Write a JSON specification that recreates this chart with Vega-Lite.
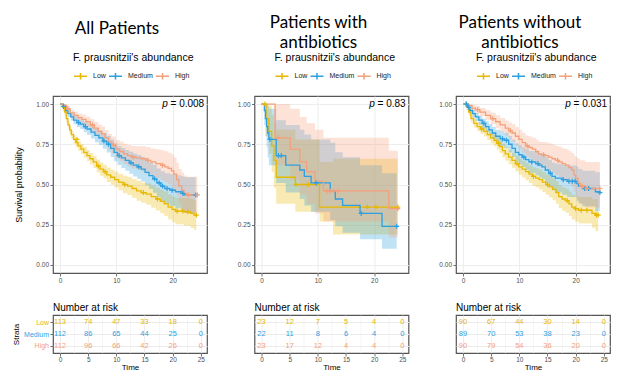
{
  "$schema": "https://vega.github.io/schema/vega-lite/v6.json",
  "background": "white",
  "padding": {"left": 12, "top": 13, "right": 5, "bottom": 5},
  "datasets": {
    "curves": [
      {"p":"A","g":"Low","t":0,"s":1,"lo":1,"hi":1},
      {"p":"A","g":"Low","t":0.5,"s":0.98,"lo":0.958,"hi":1},
      {"p":"A","g":"Low","t":0.8,"s":0.95,"lo":0.928,"hi":0.97},
      {"p":"A","g":"Low","t":1.1,"s":0.91,"lo":0.887,"hi":0.933},
      {"p":"A","g":"Low","t":1.4,"s":0.87,"lo":0.846,"hi":0.894},
      {"p":"A","g":"Low","t":1.7,"s":0.84,"lo":0.815,"hi":0.865},
      {"p":"A","g":"Low","t":2.0,"s":0.81,"lo":0.784,"hi":0.836},
      {"p":"A","g":"Low","t":2.4,"s":0.78,"lo":0.753,"hi":0.807},
      {"p":"A","g":"Low","t":2.8,"s":0.76,"lo":0.732,"hi":0.788},
      {"p":"A","g":"Low","t":3.2,"s":0.74,"lo":0.71,"hi":0.77},
      {"p":"A","g":"Low","t":3.7,"s":0.72,"lo":0.689,"hi":0.751},
      {"p":"A","g":"Low","t":4.2,"s":0.7,"lo":0.667,"hi":0.733},
      {"p":"A","g":"Low","t":4.8,"s":0.68,"lo":0.646,"hi":0.714},
      {"p":"A","g":"Low","t":5.3,"s":0.66,"lo":0.624,"hi":0.696},
      {"p":"A","g":"Low","t":5.9,"s":0.64,"lo":0.602,"hi":0.678},
      {"p":"A","g":"Low","t":6.5,"s":0.615,"lo":0.575,"hi":0.655},
      {"p":"A","g":"Low","t":7.1,"s":0.595,"lo":0.554,"hi":0.636},
      {"p":"A","g":"Low","t":7.7,"s":0.58,"lo":0.537,"hi":0.623},
      {"p":"A","g":"Low","t":8.3,"s":0.56,"lo":0.515,"hi":0.605},
      {"p":"A","g":"Low","t":9.0,"s":0.545,"lo":0.498,"hi":0.592},
      {"p":"A","g":"Low","t":9.7,"s":0.53,"lo":0.481,"hi":0.579},
      {"p":"A","g":"Low","t":10.4,"s":0.515,"lo":0.464,"hi":0.566},
      {"p":"A","g":"Low","t":11.2,"s":0.5,"lo":0.446,"hi":0.554},
      {"p":"A","g":"Low","t":12.0,"s":0.49,"lo":0.434,"hi":0.546},
      {"p":"A","g":"Low","t":12.8,"s":0.475,"lo":0.417,"hi":0.533},
      {"p":"A","g":"Low","t":13.6,"s":0.46,"lo":0.399,"hi":0.521},
      {"p":"A","g":"Low","t":14.4,"s":0.45,"lo":0.387,"hi":0.513},
      {"p":"A","g":"Low","t":15.3,"s":0.44,"lo":0.374,"hi":0.506},
      {"p":"A","g":"Low","t":16.2,"s":0.425,"lo":0.356,"hi":0.494},
      {"p":"A","g":"Low","t":17.0,"s":0.41,"lo":0.339,"hi":0.481},
      {"p":"A","g":"Low","t":17.8,"s":0.395,"lo":0.322,"hi":0.468},
      {"p":"A","g":"Low","t":18.5,"s":0.38,"lo":0.304,"hi":0.456},
      {"p":"A","g":"Low","t":19.2,"s":0.36,"lo":0.282,"hi":0.438},
      {"p":"A","g":"Low","t":19.9,"s":0.345,"lo":0.265,"hi":0.425},
      {"p":"A","g":"Low","t":20.5,"s":0.335,"lo":0.253,"hi":0.417},
      {"p":"A","g":"Low","t":22.0,"s":0.33,"lo":0.244,"hi":0.416},
      {"p":"A","g":"Low","t":23.2,"s":0.32,"lo":0.23,"hi":0.41},
      {"p":"A","g":"Low","t":23.8,"s":0.31,"lo":0.218,"hi":0.402},
      {"p":"A","g":"Low","t":24.2,"s":0.31,"lo":0.218,"hi":0.402},

      {"p":"A","g":"Medium","t":0,"s":1,"lo":1,"hi":1},
      {"p":"A","g":"Medium","t":0.6,"s":0.985,"lo":0.967,"hi":1},
      {"p":"A","g":"Medium","t":1.0,"s":0.96,"lo":0.941,"hi":0.979},
      {"p":"A","g":"Medium","t":1.4,"s":0.94,"lo":0.919,"hi":0.961},
      {"p":"A","g":"Medium","t":1.9,"s":0.92,"lo":0.897,"hi":0.943},
      {"p":"A","g":"Medium","t":2.4,"s":0.9,"lo":0.875,"hi":0.925},
      {"p":"A","g":"Medium","t":3.0,"s":0.885,"lo":0.857,"hi":0.913},
      {"p":"A","g":"Medium","t":3.6,"s":0.875,"lo":0.845,"hi":0.905},
      {"p":"A","g":"Medium","t":4.2,"s":0.86,"lo":0.827,"hi":0.893},
      {"p":"A","g":"Medium","t":4.8,"s":0.845,"lo":0.809,"hi":0.881},
      {"p":"A","g":"Medium","t":5.5,"s":0.825,"lo":0.786,"hi":0.864},
      {"p":"A","g":"Medium","t":6.2,"s":0.805,"lo":0.763,"hi":0.847},
      {"p":"A","g":"Medium","t":6.9,"s":0.79,"lo":0.745,"hi":0.835},
      {"p":"A","g":"Medium","t":7.6,"s":0.77,"lo":0.722,"hi":0.818},
      {"p":"A","g":"Medium","t":8.3,"s":0.75,"lo":0.699,"hi":0.801},
      {"p":"A","g":"Medium","t":9.0,"s":0.725,"lo":0.671,"hi":0.779},
      {"p":"A","g":"Medium","t":9.6,"s":0.7,"lo":0.644,"hi":0.756},
      {"p":"A","g":"Medium","t":10.2,"s":0.68,"lo":0.621,"hi":0.739},
      {"p":"A","g":"Medium","t":10.9,"s":0.665,"lo":0.603,"hi":0.727},
      {"p":"A","g":"Medium","t":11.6,"s":0.65,"lo":0.585,"hi":0.715},
      {"p":"A","g":"Medium","t":12.3,"s":0.635,"lo":0.567,"hi":0.703},
      {"p":"A","g":"Medium","t":13.0,"s":0.62,"lo":0.549,"hi":0.691},
      {"p":"A","g":"Medium","t":13.7,"s":0.61,"lo":0.536,"hi":0.684},
      {"p":"A","g":"Medium","t":14.4,"s":0.595,"lo":0.518,"hi":0.672},
      {"p":"A","g":"Medium","t":15.1,"s":0.575,"lo":0.495,"hi":0.655},
      {"p":"A","g":"Medium","t":15.8,"s":0.555,"lo":0.472,"hi":0.638},
      {"p":"A","g":"Medium","t":16.5,"s":0.535,"lo":0.449,"hi":0.621},
      {"p":"A","g":"Medium","t":17.2,"s":0.51,"lo":0.421,"hi":0.599},
      {"p":"A","g":"Medium","t":17.9,"s":0.49,"lo":0.398,"hi":0.582},
      {"p":"A","g":"Medium","t":18.6,"s":0.475,"lo":0.38,"hi":0.57},
      {"p":"A","g":"Medium","t":19.5,"s":0.465,"lo":0.366,"hi":0.564},
      {"p":"A","g":"Medium","t":20.5,"s":0.455,"lo":0.352,"hi":0.558},
      {"p":"A","g":"Medium","t":21.5,"s":0.445,"lo":0.338,"hi":0.552},
      {"p":"A","g":"Medium","t":22.0,"s":0.435,"lo":0.325,"hi":0.545},
      {"p":"A","g":"Medium","t":24.1,"s":0.435,"lo":0.325,"hi":0.545},

      {"p":"A","g":"High","t":0,"s":1,"lo":1,"hi":1},
      {"p":"A","g":"High","t":0.6,"s":0.99,"lo":0.975,"hi":1},
      {"p":"A","g":"High","t":1.2,"s":0.97,"lo":0.953,"hi":0.987},
      {"p":"A","g":"High","t":1.8,"s":0.945,"lo":0.925,"hi":0.965},
      {"p":"A","g":"High","t":2.5,"s":0.93,"lo":0.907,"hi":0.953},
      {"p":"A","g":"High","t":3.2,"s":0.915,"lo":0.889,"hi":0.941},
      {"p":"A","g":"High","t":3.9,"s":0.905,"lo":0.875,"hi":0.935},
      {"p":"A","g":"High","t":4.6,"s":0.89,"lo":0.857,"hi":0.923},
      {"p":"A","g":"High","t":5.4,"s":0.87,"lo":0.834,"hi":0.906},
      {"p":"A","g":"High","t":6.1,"s":0.85,"lo":0.811,"hi":0.889},
      {"p":"A","g":"High","t":6.8,"s":0.83,"lo":0.787,"hi":0.873},
      {"p":"A","g":"High","t":7.4,"s":0.815,"lo":0.77,"hi":0.86},
      {"p":"A","g":"High","t":8.0,"s":0.79,"lo":0.742,"hi":0.838},
      {"p":"A","g":"High","t":8.6,"s":0.765,"lo":0.714,"hi":0.816},
      {"p":"A","g":"High","t":9.2,"s":0.745,"lo":0.692,"hi":0.798},
      {"p":"A","g":"High","t":9.9,"s":0.72,"lo":0.663,"hi":0.777},
      {"p":"A","g":"High","t":10.6,"s":0.705,"lo":0.645,"hi":0.765},
      {"p":"A","g":"High","t":11.3,"s":0.69,"lo":0.627,"hi":0.753},
      {"p":"A","g":"High","t":12.0,"s":0.68,"lo":0.614,"hi":0.746},
      {"p":"A","g":"High","t":12.7,"s":0.67,"lo":0.601,"hi":0.739},
      {"p":"A","g":"High","t":13.5,"s":0.665,"lo":0.592,"hi":0.738},
      {"p":"A","g":"High","t":14.4,"s":0.66,"lo":0.583,"hi":0.737},
      {"p":"A","g":"High","t":15.3,"s":0.65,"lo":0.569,"hi":0.731},
      {"p":"A","g":"High","t":16.1,"s":0.64,"lo":0.556,"hi":0.724},
      {"p":"A","g":"High","t":17.0,"s":0.63,"lo":0.541,"hi":0.719},
      {"p":"A","g":"High","t":17.9,"s":0.62,"lo":0.527,"hi":0.713},
      {"p":"A","g":"High","t":18.6,"s":0.61,"lo":0.514,"hi":0.706},
      {"p":"A","g":"High","t":19.2,"s":0.6,"lo":0.502,"hi":0.698},
      {"p":"A","g":"High","t":19.8,"s":0.585,"lo":0.484,"hi":0.686},
      {"p":"A","g":"High","t":20.2,"s":0.565,"lo":0.462,"hi":0.668},
      {"p":"A","g":"High","t":20.7,"s":0.53,"lo":0.425,"hi":0.635},
      {"p":"A","g":"High","t":21.1,"s":0.49,"lo":0.383,"hi":0.597},
      {"p":"A","g":"High","t":21.6,"s":0.465,"lo":0.355,"hi":0.575},
      {"p":"A","g":"High","t":22.0,"s":0.445,"lo":0.334,"hi":0.556},
      {"p":"A","g":"High","t":22.5,"s":0.435,"lo":0.322,"hi":0.548},
      {"p":"A","g":"High","t":24.4,"s":0.435,"lo":0.322,"hi":0.548},

      {"p":"B","g":"Low","t":0,"s":1,"lo":1,"hi":1},
      {"p":"B","g":"Low","t":0.8,"s":0.91,"lo":0.8,"hi":1},
      {"p":"B","g":"Low","t":1.3,"s":0.83,"lo":0.69,"hi":0.99},
      {"p":"B","g":"Low","t":1.8,"s":0.74,"lo":0.58,"hi":0.93},
      {"p":"B","g":"Low","t":2.2,"s":0.65,"lo":0.48,"hi":0.88},
      {"p":"B","g":"Low","t":2.6,"s":0.545,"lo":0.38,"hi":0.84},
      {"p":"B","g":"Low","t":6.0,"s":0.5,"lo":0.33,"hi":0.78},
      {"p":"B","g":"Low","t":10.3,"s":0.36,"lo":0.27,"hi":0.64},
      {"p":"B","g":"Low","t":12.7,"s":0.36,"lo":0.19,"hi":0.66},
      {"p":"B","g":"Low","t":24.2,"s":0.36,"lo":0.19,"hi":0.66},

      {"p":"B","g":"Medium","t":0,"s":1,"lo":1,"hi":1},
      {"p":"B","g":"Medium","t":0.5,"s":0.96,"lo":0.87,"hi":1},
      {"p":"B","g":"Medium","t":0.7,"s":0.91,"lo":0.8,"hi":1},
      {"p":"B","g":"Medium","t":0.9,"s":0.86,"lo":0.73,"hi":1},
      {"p":"B","g":"Medium","t":1.1,"s":0.82,"lo":0.67,"hi":0.99},
      {"p":"B","g":"Medium","t":1.3,"s":0.78,"lo":0.62,"hi":0.97},
      {"p":"B","g":"Medium","t":2.6,"s":0.68,"lo":0.51,"hi":0.9},
      {"p":"B","g":"Medium","t":4.3,"s":0.62,"lo":0.45,"hi":0.87},
      {"p":"B","g":"Medium","t":6.8,"s":0.59,"lo":0.41,"hi":0.84},
      {"p":"B","g":"Medium","t":7.6,"s":0.55,"lo":0.37,"hi":0.81},
      {"p":"B","g":"Medium","t":8.8,"s":0.51,"lo":0.33,"hi":0.78},
      {"p":"B","g":"Medium","t":12.2,"s":0.46,"lo":0.28,"hi":0.76},
      {"p":"B","g":"Medium","t":13.1,"s":0.41,"lo":0.24,"hi":0.7},
      {"p":"B","g":"Medium","t":14.4,"s":0.37,"lo":0.2,"hi":0.67},
      {"p":"B","g":"Medium","t":17.5,"s":0.32,"lo":0.16,"hi":0.62},
      {"p":"B","g":"Medium","t":21.4,"s":0.24,"lo":0.1,"hi":0.57},
      {"p":"B","g":"Medium","t":24.0,"s":0.24,"lo":0.1,"hi":0.57},

      {"p":"B","g":"High","t":0,"s":1,"lo":1,"hi":1},
      {"p":"B","g":"High","t":2.4,"s":0.79,"lo":0.62,"hi":1},
      {"p":"B","g":"High","t":5.1,"s":0.72,"lo":0.53,"hi":0.97},
      {"p":"B","g":"High","t":6.8,"s":0.64,"lo":0.44,"hi":0.92},
      {"p":"B","g":"High","t":8.0,"s":0.58,"lo":0.38,"hi":0.88},
      {"p":"B","g":"High","t":9.5,"s":0.52,"lo":0.32,"hi":0.84},
      {"p":"B","g":"High","t":11.0,"s":0.46,"lo":0.27,"hi":0.79},
      {"p":"B","g":"High","t":22.6,"s":0.35,"lo":0.17,"hi":0.71},
      {"p":"B","g":"High","t":24.2,"s":0.35,"lo":0.17,"hi":0.71},

      {"p":"C","g":"Low","t":0,"s":1,"lo":1,"hi":1},
      {"p":"C","g":"Low","t":0.6,"s":0.985,"lo":0.963,"hi":1},
      {"p":"C","g":"Low","t":1.0,"s":0.95,"lo":0.927,"hi":0.973},
      {"p":"C","g":"Low","t":1.4,"s":0.91,"lo":0.886,"hi":0.934},
      {"p":"C","g":"Low","t":1.9,"s":0.88,"lo":0.854,"hi":0.906},
      {"p":"C","g":"Low","t":2.5,"s":0.86,"lo":0.832,"hi":0.888},
      {"p":"C","g":"Low","t":3.1,"s":0.845,"lo":0.816,"hi":0.874},
      {"p":"C","g":"Low","t":3.7,"s":0.83,"lo":0.799,"hi":0.861},
      {"p":"C","g":"Low","t":4.3,"s":0.81,"lo":0.777,"hi":0.843},
      {"p":"C","g":"Low","t":4.9,"s":0.79,"lo":0.755,"hi":0.825},
      {"p":"C","g":"Low","t":5.5,"s":0.775,"lo":0.738,"hi":0.812},
      {"p":"C","g":"Low","t":6.0,"s":0.755,"lo":0.717,"hi":0.793},
      {"p":"C","g":"Low","t":6.5,"s":0.735,"lo":0.695,"hi":0.775},
      {"p":"C","g":"Low","t":7.0,"s":0.71,"lo":0.669,"hi":0.751},
      {"p":"C","g":"Low","t":7.5,"s":0.69,"lo":0.647,"hi":0.733},
      {"p":"C","g":"Low","t":8.1,"s":0.67,"lo":0.626,"hi":0.714},
      {"p":"C","g":"Low","t":8.7,"s":0.65,"lo":0.604,"hi":0.696},
      {"p":"C","g":"Low","t":9.3,"s":0.63,"lo":0.582,"hi":0.678},
      {"p":"C","g":"Low","t":9.9,"s":0.61,"lo":0.56,"hi":0.66},
      {"p":"C","g":"Low","t":10.5,"s":0.595,"lo":0.543,"hi":0.647},
      {"p":"C","g":"Low","t":11.1,"s":0.58,"lo":0.527,"hi":0.633},
      {"p":"C","g":"Low","t":11.7,"s":0.565,"lo":0.51,"hi":0.62},
      {"p":"C","g":"Low","t":12.3,"s":0.55,"lo":0.493,"hi":0.607},
      {"p":"C","g":"Low","t":12.9,"s":0.54,"lo":0.481,"hi":0.599},
      {"p":"C","g":"Low","t":13.5,"s":0.53,"lo":0.469,"hi":0.591},
      {"p":"C","g":"Low","t":14.1,"s":0.515,"lo":0.453,"hi":0.577},
      {"p":"C","g":"Low","t":14.7,"s":0.5,"lo":0.436,"hi":0.564},
      {"p":"C","g":"Low","t":15.3,"s":0.485,"lo":0.419,"hi":0.551},
      {"p":"C","g":"Low","t":15.9,"s":0.47,"lo":0.402,"hi":0.538},
      {"p":"C","g":"Low","t":16.5,"s":0.45,"lo":0.38,"hi":0.52},
      {"p":"C","g":"Low","t":17.0,"s":0.425,"lo":0.354,"hi":0.496},
      {"p":"C","g":"Low","t":17.6,"s":0.41,"lo":0.337,"hi":0.483},
      {"p":"C","g":"Low","t":18.2,"s":0.4,"lo":0.325,"hi":0.475},
      {"p":"C","g":"Low","t":18.8,"s":0.38,"lo":0.304,"hi":0.456},
      {"p":"C","g":"Low","t":19.3,"s":0.36,"lo":0.282,"hi":0.438},
      {"p":"C","g":"Low","t":19.9,"s":0.35,"lo":0.27,"hi":0.43},
      {"p":"C","g":"Low","t":20.5,"s":0.34,"lo":0.258,"hi":0.422},
      {"p":"C","g":"Low","t":22.9,"s":0.32,"lo":0.231,"hi":0.409},
      {"p":"C","g":"Low","t":23.5,"s":0.31,"lo":0.21,"hi":0.41},
      {"p":"C","g":"Low","t":24.0,"s":0.31,"lo":0.21,"hi":0.41},

      {"p":"C","g":"Medium","t":0,"s":1,"lo":1,"hi":1},
      {"p":"C","g":"Medium","t":0.8,"s":0.98,"lo":0.961,"hi":0.999},
      {"p":"C","g":"Medium","t":1.2,"s":0.96,"lo":0.94,"hi":0.98},
      {"p":"C","g":"Medium","t":1.7,"s":0.94,"lo":0.917,"hi":0.963},
      {"p":"C","g":"Medium","t":2.2,"s":0.92,"lo":0.895,"hi":0.945},
      {"p":"C","g":"Medium","t":2.8,"s":0.9,"lo":0.872,"hi":0.928},
      {"p":"C","g":"Medium","t":3.4,"s":0.88,"lo":0.85,"hi":0.91},
      {"p":"C","g":"Medium","t":4.0,"s":0.86,"lo":0.827,"hi":0.893},
      {"p":"C","g":"Medium","t":4.6,"s":0.84,"lo":0.804,"hi":0.876},
      {"p":"C","g":"Medium","t":5.2,"s":0.82,"lo":0.782,"hi":0.858},
      {"p":"C","g":"Medium","t":5.8,"s":0.8,"lo":0.759,"hi":0.841},
      {"p":"C","g":"Medium","t":6.6,"s":0.785,"lo":0.74,"hi":0.83},
      {"p":"C","g":"Medium","t":7.3,"s":0.775,"lo":0.727,"hi":0.823},
      {"p":"C","g":"Medium","t":8.1,"s":0.75,"lo":0.699,"hi":0.801},
      {"p":"C","g":"Medium","t":8.7,"s":0.725,"lo":0.671,"hi":0.779},
      {"p":"C","g":"Medium","t":9.3,"s":0.7,"lo":0.643,"hi":0.757},
      {"p":"C","g":"Medium","t":9.9,"s":0.685,"lo":0.625,"hi":0.745},
      {"p":"C","g":"Medium","t":10.5,"s":0.67,"lo":0.608,"hi":0.732},
      {"p":"C","g":"Medium","t":11.1,"s":0.655,"lo":0.59,"hi":0.72},
      {"p":"C","g":"Medium","t":11.7,"s":0.64,"lo":0.572,"hi":0.708},
      {"p":"C","g":"Medium","t":12.9,"s":0.63,"lo":0.557,"hi":0.703},
      {"p":"C","g":"Medium","t":13.5,"s":0.62,"lo":0.544,"hi":0.696},
      {"p":"C","g":"Medium","t":14.0,"s":0.61,"lo":0.532,"hi":0.688},
      {"p":"C","g":"Medium","t":14.6,"s":0.59,"lo":0.509,"hi":0.671},
      {"p":"C","g":"Medium","t":15.2,"s":0.57,"lo":0.487,"hi":0.653},
      {"p":"C","g":"Medium","t":15.8,"s":0.55,"lo":0.464,"hi":0.636},
      {"p":"C","g":"Medium","t":16.4,"s":0.54,"lo":0.451,"hi":0.629},
      {"p":"C","g":"Medium","t":17.6,"s":0.53,"lo":0.436,"hi":0.624},
      {"p":"C","g":"Medium","t":18.5,"s":0.52,"lo":0.422,"hi":0.618},
      {"p":"C","g":"Medium","t":20.2,"s":0.505,"lo":0.399,"hi":0.611},
      {"p":"C","g":"Medium","t":20.5,"s":0.49,"lo":0.383,"hi":0.597},
      {"p":"C","g":"Medium","t":21.2,"s":0.475,"lo":0.365,"hi":0.585},
      {"p":"C","g":"Medium","t":23.5,"s":0.455,"lo":0.334,"hi":0.576},
      {"p":"C","g":"Medium","t":24.3,"s":0.45,"lo":0.334,"hi":0.576},

      {"p":"C","g":"High","t":0,"s":1,"lo":1,"hi":1},
      {"p":"C","g":"High","t":1.0,"s":0.99,"lo":0.973,"hi":1},
      {"p":"C","g":"High","t":1.6,"s":0.975,"lo":0.955,"hi":0.995},
      {"p":"C","g":"High","t":2.2,"s":0.965,"lo":0.942,"hi":0.988},
      {"p":"C","g":"High","t":3.0,"s":0.95,"lo":0.924,"hi":0.976},
      {"p":"C","g":"High","t":4.0,"s":0.93,"lo":0.899,"hi":0.961},
      {"p":"C","g":"High","t":4.9,"s":0.91,"lo":0.874,"hi":0.946},
      {"p":"C","g":"High","t":5.8,"s":0.89,"lo":0.85,"hi":0.93},
      {"p":"C","g":"High","t":6.6,"s":0.87,"lo":0.826,"hi":0.914},
      {"p":"C","g":"High","t":7.5,"s":0.85,"lo":0.802,"hi":0.898},
      {"p":"C","g":"High","t":8.1,"s":0.835,"lo":0.784,"hi":0.886},
      {"p":"C","g":"High","t":8.7,"s":0.82,"lo":0.766,"hi":0.874},
      {"p":"C","g":"High","t":9.3,"s":0.8,"lo":0.743,"hi":0.857},
      {"p":"C","g":"High","t":9.9,"s":0.78,"lo":0.72,"hi":0.84},
      {"p":"C","g":"High","t":10.5,"s":0.76,"lo":0.698,"hi":0.822},
      {"p":"C","g":"High","t":11.1,"s":0.74,"lo":0.675,"hi":0.805},
      {"p":"C","g":"High","t":11.7,"s":0.73,"lo":0.662,"hi":0.798},
      {"p":"C","g":"High","t":12.3,"s":0.72,"lo":0.649,"hi":0.791},
      {"p":"C","g":"High","t":12.9,"s":0.705,"lo":0.631,"hi":0.779},
      {"p":"C","g":"High","t":13.4,"s":0.69,"lo":0.614,"hi":0.766},
      {"p":"C","g":"High","t":14.0,"s":0.685,"lo":0.606,"hi":0.764},
      {"p":"C","g":"High","t":14.6,"s":0.68,"lo":0.598,"hi":0.762},
      {"p":"C","g":"High","t":15.2,"s":0.67,"lo":0.585,"hi":0.755},
      {"p":"C","g":"High","t":15.8,"s":0.66,"lo":0.572,"hi":0.748},
      {"p":"C","g":"High","t":16.4,"s":0.65,"lo":0.559,"hi":0.741},
      {"p":"C","g":"High","t":17.0,"s":0.64,"lo":0.546,"hi":0.734},
      {"p":"C","g":"High","t":17.6,"s":0.63,"lo":0.534,"hi":0.726},
      {"p":"C","g":"High","t":18.2,"s":0.62,"lo":0.521,"hi":0.719},
      {"p":"C","g":"High","t":18.8,"s":0.605,"lo":0.503,"hi":0.707},
      {"p":"C","g":"High","t":19.3,"s":0.59,"lo":0.485,"hi":0.695},
      {"p":"C","g":"High","t":19.7,"s":0.56,"lo":0.453,"hi":0.68},
      {"p":"C","g":"High","t":20.0,"s":0.54,"lo":0.432,"hi":0.67},
      {"p":"C","g":"High","t":20.4,"s":0.51,"lo":0.4,"hi":0.66},
      {"p":"C","g":"High","t":20.8,"s":0.49,"lo":0.378,"hi":0.65},
      {"p":"C","g":"High","t":21.7,"s":0.475,"lo":0.359,"hi":0.64},
      {"p":"C","g":"High","t":24.3,"s":0.475,"lo":0.359,"hi":0.64}
    ],
    "cens": [
      {"p":"A","g":"Low","t":3.0,"s":0.78},
      {"p":"A","g":"Low","t":6.8,"s":0.615},
      {"p":"A","g":"Low","t":8.0,"s":0.58},
      {"p":"A","g":"Low","t":11.5,"s":0.5},
      {"p":"A","g":"Low","t":14.8,"s":0.45},
      {"p":"A","g":"Low","t":17.3,"s":0.41},
      {"p":"A","g":"Low","t":20.8,"s":0.335},
      {"p":"A","g":"Low","t":21.8,"s":0.335},
      {"p":"A","g":"Low","t":22.7,"s":0.33},
      {"p":"A","g":"Low","t":24.2,"s":0.31},
      {"p":"A","g":"Medium","t":0.6,"s":0.985},
      {"p":"A","g":"Medium","t":3.3,"s":0.885},
      {"p":"A","g":"Medium","t":4.5,"s":0.86},
      {"p":"A","g":"Medium","t":7.8,"s":0.77},
      {"p":"A","g":"Medium","t":8.6,"s":0.75},
      {"p":"A","g":"Medium","t":10.5,"s":0.68},
      {"p":"A","g":"Medium","t":12.6,"s":0.635},
      {"p":"A","g":"Medium","t":14.0,"s":0.61},
      {"p":"A","g":"Medium","t":16.8,"s":0.535},
      {"p":"A","g":"Medium","t":17.6,"s":0.51},
      {"p":"A","g":"Medium","t":18.2,"s":0.49},
      {"p":"A","g":"Medium","t":19.0,"s":0.475},
      {"p":"A","g":"Medium","t":19.9,"s":0.465},
      {"p":"A","g":"Medium","t":21.8,"s":0.445},
      {"p":"A","g":"Medium","t":24.1,"s":0.435},
      {"p":"A","g":"High","t":1.4,"s":0.97},
      {"p":"A","g":"High","t":5.8,"s":0.87},
      {"p":"A","g":"High","t":9.5,"s":0.745},
      {"p":"A","g":"High","t":13.0,"s":0.67},
      {"p":"A","g":"High","t":15.6,"s":0.65},
      {"p":"A","g":"High","t":18.2,"s":0.62},
      {"p":"A","g":"High","t":22.8,"s":0.435},
      {"p":"A","g":"High","t":24.4,"s":0.435},
      {"p":"B","g":"Low","t":0.6,"s":1},
      {"p":"B","g":"Low","t":6.1,"s":0.5},
      {"p":"B","g":"Low","t":8.3,"s":0.5},
      {"p":"B","g":"Low","t":18.8,"s":0.36},
      {"p":"B","g":"Low","t":20.3,"s":0.36},
      {"p":"B","g":"Low","t":24.2,"s":0.36},
      {"p":"B","g":"Medium","t":1.5,"s":0.78},
      {"p":"B","g":"Medium","t":3.0,"s":0.68},
      {"p":"B","g":"Medium","t":3.5,"s":0.68},
      {"p":"B","g":"Medium","t":9.7,"s":0.51},
      {"p":"B","g":"Medium","t":17.7,"s":0.32},
      {"p":"B","g":"Medium","t":24.0,"s":0.24},
      {"p":"B","g":"High","t":2.9,"s":0.79},
      {"p":"B","g":"High","t":11.6,"s":0.46},
      {"p":"B","g":"High","t":12.2,"s":0.46},
      {"p":"B","g":"High","t":12.8,"s":0.46},
      {"p":"B","g":"High","t":13.6,"s":0.46},
      {"p":"B","g":"High","t":24.2,"s":0.35},
      {"p":"C","g":"Low","t":0.5,"s":1},
      {"p":"C","g":"Low","t":3.3,"s":0.845},
      {"p":"C","g":"Low","t":6.3,"s":0.755},
      {"p":"C","g":"Low","t":9.6,"s":0.63},
      {"p":"C","g":"Low","t":12.5,"s":0.55},
      {"p":"C","g":"Low","t":15.0,"s":0.5},
      {"p":"C","g":"Low","t":18.5,"s":0.4},
      {"p":"C","g":"Low","t":20.0,"s":0.35},
      {"p":"C","g":"Low","t":21.0,"s":0.34},
      {"p":"C","g":"Low","t":22.0,"s":0.34},
      {"p":"C","g":"Low","t":23.7,"s":0.31},
      {"p":"C","g":"Low","t":24.0,"s":0.31},
      {"p":"C","g":"Medium","t":0.6,"s":1},
      {"p":"C","g":"Medium","t":1.0,"s":0.98},
      {"p":"C","g":"Medium","t":3.7,"s":0.88},
      {"p":"C","g":"Medium","t":7.0,"s":0.785},
      {"p":"C","g":"Medium","t":7.7,"s":0.775},
      {"p":"C","g":"Medium","t":10.8,"s":0.67},
      {"p":"C","g":"Medium","t":12.2,"s":0.64},
      {"p":"C","g":"Medium","t":13.3,"s":0.63},
      {"p":"C","g":"Medium","t":15.5,"s":0.57},
      {"p":"C","g":"Medium","t":17.8,"s":0.53},
      {"p":"C","g":"Medium","t":18.8,"s":0.52},
      {"p":"C","g":"Medium","t":19.4,"s":0.52},
      {"p":"C","g":"Medium","t":19.9,"s":0.52},
      {"p":"C","g":"Medium","t":21.6,"s":0.475},
      {"p":"C","g":"Medium","t":22.3,"s":0.475},
      {"p":"C","g":"Medium","t":24.3,"s":0.45},
      {"p":"C","g":"High","t":2.6,"s":0.965},
      {"p":"C","g":"High","t":5.3,"s":0.91},
      {"p":"C","g":"High","t":8.4,"s":0.835},
      {"p":"C","g":"High","t":11.4,"s":0.74},
      {"p":"C","g":"High","t":14.3,"s":0.685},
      {"p":"C","g":"High","t":16.8,"s":0.65},
      {"p":"C","g":"High","t":21.2,"s":0.49},
      {"p":"C","g":"High","t":22.0,"s":0.475},
      {"p":"C","g":"High","t":24.3,"s":0.475}
    ],
    "risk": [
      {"p":"A","g":"Low","t":0,"n":113},{"p":"A","g":"Low","t":5,"n":74},{"p":"A","g":"Low","t":10,"n":47},{"p":"A","g":"Low","t":15,"n":33},{"p":"A","g":"Low","t":20,"n":18},{"p":"A","g":"Low","t":25,"n":0},
      {"p":"A","g":"Medium","t":0,"n":112},{"p":"A","g":"Medium","t":5,"n":86},{"p":"A","g":"Medium","t":10,"n":65},{"p":"A","g":"Medium","t":15,"n":44},{"p":"A","g":"Medium","t":20,"n":25},{"p":"A","g":"Medium","t":25,"n":0},
      {"p":"A","g":"High","t":0,"n":112},{"p":"A","g":"High","t":5,"n":96},{"p":"A","g":"High","t":10,"n":66},{"p":"A","g":"High","t":15,"n":42},{"p":"A","g":"High","t":20,"n":26},{"p":"A","g":"High","t":25,"n":0},
      {"p":"B","g":"Low","t":0,"n":23},{"p":"B","g":"Low","t":5,"n":12},{"p":"B","g":"Low","t":10,"n":7},{"p":"B","g":"Low","t":15,"n":5},{"p":"B","g":"Low","t":20,"n":4},{"p":"B","g":"Low","t":25,"n":0},
      {"p":"B","g":"Medium","t":0,"n":22},{"p":"B","g":"Medium","t":5,"n":11},{"p":"B","g":"Medium","t":10,"n":8},{"p":"B","g":"Medium","t":15,"n":6},{"p":"B","g":"Medium","t":20,"n":4},{"p":"B","g":"Medium","t":25,"n":0},
      {"p":"B","g":"High","t":0,"n":23},{"p":"B","g":"High","t":5,"n":17},{"p":"B","g":"High","t":10,"n":12},{"p":"B","g":"High","t":15,"n":4},{"p":"B","g":"High","t":20,"n":4},{"p":"B","g":"High","t":25,"n":0},
      {"p":"C","g":"Low","t":0,"n":90},{"p":"C","g":"Low","t":5,"n":67},{"p":"C","g":"Low","t":10,"n":44},{"p":"C","g":"Low","t":15,"n":30},{"p":"C","g":"Low","t":20,"n":14},{"p":"C","g":"Low","t":25,"n":0},
      {"p":"C","g":"Medium","t":0,"n":89},{"p":"C","g":"Medium","t":5,"n":70},{"p":"C","g":"Medium","t":10,"n":53},{"p":"C","g":"Medium","t":15,"n":38},{"p":"C","g":"Medium","t":20,"n":23},{"p":"C","g":"Medium","t":25,"n":0},
      {"p":"C","g":"High","t":0,"n":90},{"p":"C","g":"High","t":5,"n":79},{"p":"C","g":"High","t":10,"n":54},{"p":"C","g":"High","t":15,"n":36},{"p":"C","g":"High","t":20,"n":20},{"p":"C","g":"High","t":25,"n":0}
    ]
  },
  "columns": 3,
  "bounds": "flush",
  "spacing": {"column": 47.5, "row": 42},
  "resolve": {"scale": {"x": "independent", "y": "independent", "color": "independent"}, "legend": {"color": "independent"}},
  "concat": [
    {
      "width": 154, "height": 177,
      "title": {"text": "All Patients", "anchor": "middle", "frame": "group", "dx": -13, "dy": -14, "offset": 1},
      "layer": [
        {"data": {"name": "curves"}, "transform": [{"filter": "datum.p == 'A'"}],
         "mark": {"type": "area", "interpolate": "step-after", "fillOpacity": 0.3},
         "encoding": {
           "x": {"field": "t", "type": "quantitative", "scale": {"domain": [-1.25, 26.1], "nice": false, "zero": false},
                 "axis": {"values": [0,2.5,5,7.5,10,12.5,15,17.5,20,22.5,25], "labelExpr": "datum.value % 5 == 0 ? format(datum.value, 'd') : ''", "title": null, "labelOverlap": false, "labelFlush": false, "labelPadding": 1.5,
                          "gridWidth": {"condition": {"test": "datum.value % 5 != 0", "value": 0.5}, "value": 0.9},
                          "tickOpacity": {"condition": {"test": "datum.value % 5 != 0", "value": 0}, "value": 1}}},
           "y": {"field": "lo", "type": "quantitative", "scale": {"domain": [-0.05, 1.05], "nice": false, "zero": false},
                 "axis": {"values": [0,0.125,0.25,0.375,0.5,0.625,0.75,0.875,1], "labelExpr": "datum.value % 0.25 == 0 ? format(datum.value, '.2f') : ''", "title": "Survival probability", "titlePadding": 12, "labelOverlap": false, "labelFlush": false, "labelPadding": 1.5,
                          "gridWidth": {"condition": {"test": "datum.value % 0.25 != 0", "value": 0.5}, "value": 0.9},
                          "tickOpacity": {"condition": {"test": "datum.value % 0.25 != 0", "value": 0}, "value": 1}}},
           "y2": {"field": "hi"},
           "color": {"field": "g", "type": "nominal", "scale": {"domain": ["Low","Medium","High"], "range": ["#E7B800","#2E9FDF","#F4A07A"]},
             "legend": {"title": "F. prausnitzii's abundance", "orient": "none", "legendX": 20, "legendY": -43, "direction": "horizontal", "gridAlign": "each", "padding": 0, "titleFontSize": 10.5, "titleFontWeight": "normal", "titleColor": "black", "titlePadding": 5, "labelFontSize": 7, "labelColor": "#222", "labelOffset": 5, "columnPadding": 0, "symbolType": "M-1,0H1M0,-0.5V0.5", "symbolSize": 169, "symbolStrokeWidth": 1.5}}
         }},
        {"data": {"name": "curves"}, "transform": [{"filter": "datum.p == 'A'"}],
         "mark": {"type": "line", "interpolate": "step-after", "strokeWidth": 1.3},
         "encoding": {
           "x": {"field": "t", "type": "quantitative"},
           "y": {"field": "s", "type": "quantitative"},
           "color": {"field": "g", "type": "nominal",
             "legend": {"title": "F. prausnitzii's abundance", "orient": "none", "legendX": 20, "legendY": -43, "direction": "horizontal", "gridAlign": "each", "padding": 0, "titleFontSize": 10.5, "titleFontWeight": "normal", "titleColor": "black", "titlePadding": 5, "labelFontSize": 7, "labelColor": "#222", "labelOffset": 5, "columnPadding": 0, "symbolType": "M-1,0H1M0,-0.5V0.5", "symbolSize": 169, "symbolStrokeWidth": 1.5}}
         }},
        {"data": {"name": "cens"}, "transform": [{"filter": "datum.p == 'A'"}],
         "mark": {"type": "point", "shape": "M-1,0H1M0,-1V1", "filled": false, "size": 25, "strokeWidth": 1.2, "opacity": 1},
         "encoding": {
           "x": {"field": "t", "type": "quantitative"},
           "y": {"field": "s", "type": "quantitative"},
           "color": {"field": "g", "type": "nominal",
             "legend": {"title": "F. prausnitzii's abundance", "orient": "none", "legendX": 20, "legendY": -43, "direction": "horizontal", "gridAlign": "each", "padding": 0, "titleFontSize": 10.5, "titleFontWeight": "normal", "titleColor": "black", "titlePadding": 5, "labelFontSize": 7, "labelColor": "#222", "labelOffset": 5, "columnPadding": 0, "symbolType": "M-1,0H1M0,-0.5V0.5", "symbolSize": 169, "symbolStrokeWidth": 1.5}}
         }},
        {"data": {"values": [{}]}, "mark": {"type": "text", "align": "right", "baseline": "middle", "fontSize": 10, "fontStyle": "italic", "dx": -36.4},
         "encoding": {"x": {"datum": 25.6, "type": "quantitative"}, "y": {"datum": 1.0, "type": "quantitative"}, "text": {"value": "p"}}},
        {"data": {"values": [{}]}, "mark": {"type": "text", "align": "right", "baseline": "middle", "fontSize": 10},
         "encoding": {"x": {"datum": 25.6, "type": "quantitative"}, "y": {"datum": 1.0, "type": "quantitative"}, "text": {"value": "= 0.008"}}}
      ]
    },
    {
      "width": 154, "height": 177,
      "title": {"text": ["Patients with", "antibiotics"], "anchor": "middle", "frame": "group", "dx": -13, "offset": 1},
      "layer": [
        {"data": {"name": "curves"}, "transform": [{"filter": "datum.p == 'B'"}],
         "mark": {"type": "area", "interpolate": "step-after", "fillOpacity": 0.3},
         "encoding": {
           "x": {"field": "t", "type": "quantitative", "scale": {"domain": [-1.25, 26.1], "nice": false, "zero": false},
                 "axis": {"values": [0,2.5,5,7.5,10,12.5,15,17.5,20,22.5,25], "labelExpr": "datum.value % 5 == 0 ? format(datum.value, 'd') : ''", "title": null, "labelOverlap": false, "labelFlush": false, "labelPadding": 1.5,
                          "gridWidth": {"condition": {"test": "datum.value % 5 != 0", "value": 0.5}, "value": 0.9},
                          "tickOpacity": {"condition": {"test": "datum.value % 5 != 0", "value": 0}, "value": 1}}},
           "y": {"field": "lo", "type": "quantitative", "scale": {"domain": [-0.05, 1.05], "nice": false, "zero": false},
                 "axis": {"values": [0,0.125,0.25,0.375,0.5,0.625,0.75,0.875,1], "labelExpr": "datum.value % 0.25 == 0 ? format(datum.value, '.2f') : ''", "title": null, "labelOverlap": false, "labelFlush": false, "labelPadding": 1.5,
                          "gridWidth": {"condition": {"test": "datum.value % 0.25 != 0", "value": 0.5}, "value": 0.9},
                          "tickOpacity": {"condition": {"test": "datum.value % 0.25 != 0", "value": 0}, "value": 1}}},
           "y2": {"field": "hi"},
           "color": {"field": "g", "type": "nominal", "scale": {"domain": ["Low","Medium","High"], "range": ["#E7B800","#2E9FDF","#F4A07A"]},
             "legend": {"title": "F. prausnitzii's abundance", "orient": "none", "legendX": 20, "legendY": -43, "direction": "horizontal", "gridAlign": "each", "padding": 0, "titleFontSize": 10.5, "titleFontWeight": "normal", "titleColor": "black", "titlePadding": 5, "labelFontSize": 7, "labelColor": "#222", "labelOffset": 5, "columnPadding": 0, "symbolType": "M-1,0H1M0,-0.5V0.5", "symbolSize": 169, "symbolStrokeWidth": 1.5}}
         }},
        {"data": {"name": "curves"}, "transform": [{"filter": "datum.p == 'B'"}],
         "mark": {"type": "line", "interpolate": "step-after", "strokeWidth": 1.3},
         "encoding": {
           "x": {"field": "t", "type": "quantitative"},
           "y": {"field": "s", "type": "quantitative"},
           "color": {"field": "g", "type": "nominal",
             "legend": {"title": "F. prausnitzii's abundance", "orient": "none", "legendX": 20, "legendY": -43, "direction": "horizontal", "gridAlign": "each", "padding": 0, "titleFontSize": 10.5, "titleFontWeight": "normal", "titleColor": "black", "titlePadding": 5, "labelFontSize": 7, "labelColor": "#222", "labelOffset": 5, "columnPadding": 0, "symbolType": "M-1,0H1M0,-0.5V0.5", "symbolSize": 169, "symbolStrokeWidth": 1.5}}
         }},
        {"data": {"name": "cens"}, "transform": [{"filter": "datum.p == 'B'"}],
         "mark": {"type": "point", "shape": "M-1,0H1M0,-1V1", "filled": false, "size": 25, "strokeWidth": 1.2, "opacity": 1},
         "encoding": {
           "x": {"field": "t", "type": "quantitative"},
           "y": {"field": "s", "type": "quantitative"},
           "color": {"field": "g", "type": "nominal",
             "legend": {"title": "F. prausnitzii's abundance", "orient": "none", "legendX": 20, "legendY": -43, "direction": "horizontal", "gridAlign": "each", "padding": 0, "titleFontSize": 10.5, "titleFontWeight": "normal", "titleColor": "black", "titlePadding": 5, "labelFontSize": 7, "labelColor": "#222", "labelOffset": 5, "columnPadding": 0, "symbolType": "M-1,0H1M0,-0.5V0.5", "symbolSize": 169, "symbolStrokeWidth": 1.5}}
         }},
        {"data": {"values": [{}]}, "mark": {"type": "text", "align": "right", "baseline": "middle", "fontSize": 10, "fontStyle": "italic", "dx": -30.9},
         "encoding": {"x": {"datum": 25.6, "type": "quantitative"}, "y": {"datum": 1.0, "type": "quantitative"}, "text": {"value": "p"}}},
        {"data": {"values": [{}]}, "mark": {"type": "text", "align": "right", "baseline": "middle", "fontSize": 10},
         "encoding": {"x": {"datum": 25.6, "type": "quantitative"}, "y": {"datum": 1.0, "type": "quantitative"}, "text": {"value": "= 0.83"}}}
      ]
    },
    {
      "width": 154, "height": 177,
      "title": {"text": ["Patients without", "antibiotics"], "anchor": "middle", "frame": "group", "dx": -13, "offset": 1},
      "layer": [
        {"data": {"name": "curves"}, "transform": [{"filter": "datum.p == 'C'"}],
         "mark": {"type": "area", "interpolate": "step-after", "fillOpacity": 0.3},
         "encoding": {
           "x": {"field": "t", "type": "quantitative", "scale": {"domain": [-1.25, 26.1], "nice": false, "zero": false},
                 "axis": {"values": [0,2.5,5,7.5,10,12.5,15,17.5,20,22.5,25], "labelExpr": "datum.value % 5 == 0 ? format(datum.value, 'd') : ''", "title": null, "labelOverlap": false, "labelFlush": false, "labelPadding": 1.5,
                          "gridWidth": {"condition": {"test": "datum.value % 5 != 0", "value": 0.5}, "value": 0.9},
                          "tickOpacity": {"condition": {"test": "datum.value % 5 != 0", "value": 0}, "value": 1}}},
           "y": {"field": "lo", "type": "quantitative", "scale": {"domain": [-0.05, 1.05], "nice": false, "zero": false},
                 "axis": {"values": [0,0.125,0.25,0.375,0.5,0.625,0.75,0.875,1], "labelExpr": "datum.value % 0.25 == 0 ? format(datum.value, '.2f') : ''", "title": null, "labelOverlap": false, "labelFlush": false, "labelPadding": 1.5,
                          "gridWidth": {"condition": {"test": "datum.value % 0.25 != 0", "value": 0.5}, "value": 0.9},
                          "tickOpacity": {"condition": {"test": "datum.value % 0.25 != 0", "value": 0}, "value": 1}}},
           "y2": {"field": "hi"},
           "color": {"field": "g", "type": "nominal", "scale": {"domain": ["Low","Medium","High"], "range": ["#E7B800","#2E9FDF","#F4A07A"]},
             "legend": {"title": "F. prausnitzii's abundance", "orient": "none", "legendX": 20, "legendY": -43, "direction": "horizontal", "gridAlign": "each", "padding": 0, "titleFontSize": 10.5, "titleFontWeight": "normal", "titleColor": "black", "titlePadding": 5, "labelFontSize": 7, "labelColor": "#222", "labelOffset": 5, "columnPadding": 0, "symbolType": "M-1,0H1M0,-0.5V0.5", "symbolSize": 169, "symbolStrokeWidth": 1.5}}
         }},
        {"data": {"name": "curves"}, "transform": [{"filter": "datum.p == 'C'"}],
         "mark": {"type": "line", "interpolate": "step-after", "strokeWidth": 1.3},
         "encoding": {
           "x": {"field": "t", "type": "quantitative"},
           "y": {"field": "s", "type": "quantitative"},
           "color": {"field": "g", "type": "nominal",
             "legend": {"title": "F. prausnitzii's abundance", "orient": "none", "legendX": 20, "legendY": -43, "direction": "horizontal", "gridAlign": "each", "padding": 0, "titleFontSize": 10.5, "titleFontWeight": "normal", "titleColor": "black", "titlePadding": 5, "labelFontSize": 7, "labelColor": "#222", "labelOffset": 5, "columnPadding": 0, "symbolType": "M-1,0H1M0,-0.5V0.5", "symbolSize": 169, "symbolStrokeWidth": 1.5}}
         }},
        {"data": {"name": "cens"}, "transform": [{"filter": "datum.p == 'C'"}],
         "mark": {"type": "point", "shape": "M-1,0H1M0,-1V1", "filled": false, "size": 25, "strokeWidth": 1.2, "opacity": 1},
         "encoding": {
           "x": {"field": "t", "type": "quantitative"},
           "y": {"field": "s", "type": "quantitative"},
           "color": {"field": "g", "type": "nominal",
             "legend": {"title": "F. prausnitzii's abundance", "orient": "none", "legendX": 20, "legendY": -43, "direction": "horizontal", "gridAlign": "each", "padding": 0, "titleFontSize": 10.5, "titleFontWeight": "normal", "titleColor": "black", "titlePadding": 5, "labelFontSize": 7, "labelColor": "#222", "labelOffset": 5, "columnPadding": 0, "symbolType": "M-1,0H1M0,-0.5V0.5", "symbolSize": 169, "symbolStrokeWidth": 1.5}}
         }},
        {"data": {"values": [{}]}, "mark": {"type": "text", "align": "right", "baseline": "middle", "fontSize": 10, "fontStyle": "italic", "dx": -36.4},
         "encoding": {"x": {"datum": 25.6, "type": "quantitative"}, "y": {"datum": 1.0, "type": "quantitative"}, "text": {"value": "p"}}},
        {"data": {"values": [{}]}, "mark": {"type": "text", "align": "right", "baseline": "middle", "fontSize": 10},
         "encoding": {"x": {"datum": 25.6, "type": "quantitative"}, "y": {"datum": 1.0, "type": "quantitative"}, "text": {"value": "= 0.031"}}}
      ]
    },
    {
      "width": 154, "height": 38,
      "title": {"text": "Number at risk", "anchor": "start", "frame": "group", "font": "Liberation Sans", "fontSize": 10, "offset": 2},
      "data": {"name": "risk"}, "transform": [{"filter": "datum.p == 'A'"}],
      "mark": {"type": "text", "fontSize": 7.5},
      "encoding": {
        "x": {"field": "t", "type": "quantitative", "scale": {"domain": [-1.25, 26.1], "nice": false, "zero": false},
              "axis": {"values": [0,2.5,5,7.5,10,12.5,15,17.5,20,22.5,25], "labelExpr": "datum.value % 5 == 0 ? format(datum.value, 'd') : ''", "title": "Time", "titleFontSize": 8, "titlePadding": 0.5, "labelOverlap": false, "labelFlush": false, "labelPadding": 0,
                       "gridWidth": {"condition": {"test": "datum.value % 5 != 0", "value": 0.5}, "value": 0.9},
                       "tickOpacity": {"condition": {"test": "datum.value % 5 != 0", "value": 0}, "value": 1}}},
        "y": {"field": "g", "type": "nominal", "scale": {"type": "point", "domain": ["Low","Medium","High"], "padding": 0.6},
              "axis": {"title": "Strata", "titleFontSize": 8, "titlePadding": 3, "labelFontSize": 7, "labelPadding": 1.5,
                       "labelColor": {"condition": [{"test": "datum.value == 'Low'", "value": "#E7B800"}, {"test": "datum.value == 'Medium'", "value": "#2E9FDF"}], "value": "#F4A07A"}}},
        "text": {"field": "n", "type": "quantitative"},
        "color": {"field": "g", "type": "nominal", "scale": {"domain": ["Low","Medium","High"], "range": ["#E7B800","#2E9FDF","#F4A07A"]}, "legend": null}
      }
    },
    {
      "width": 154, "height": 38,
      "title": {"text": "Number at risk", "anchor": "start", "frame": "group", "font": "Liberation Sans", "fontSize": 10, "offset": 2},
      "data": {"name": "risk"}, "transform": [{"filter": "datum.p == 'B'"}],
      "mark": {"type": "text", "fontSize": 7.5},
      "encoding": {
        "x": {"field": "t", "type": "quantitative", "scale": {"domain": [-1.25, 26.1], "nice": false, "zero": false},
              "axis": {"values": [0,2.5,5,7.5,10,12.5,15,17.5,20,22.5,25], "labelExpr": "datum.value % 5 == 0 ? format(datum.value, 'd') : ''", "title": "Time", "titleFontSize": 8, "titlePadding": 0.5, "labelOverlap": false, "labelFlush": false, "labelPadding": 0,
                       "gridWidth": {"condition": {"test": "datum.value % 5 != 0", "value": 0.5}, "value": 0.9},
                       "tickOpacity": {"condition": {"test": "datum.value % 5 != 0", "value": 0}, "value": 1}}},
        "y": {"field": "g", "type": "nominal", "scale": {"type": "point", "domain": ["Low","Medium","High"], "padding": 0.6},
              "axis": {"title": null, "labels": false, "ticks": false}},
        "text": {"field": "n", "type": "quantitative"},
        "color": {"field": "g", "type": "nominal", "scale": {"domain": ["Low","Medium","High"], "range": ["#E7B800","#2E9FDF","#F4A07A"]}, "legend": null}
      }
    },
    {
      "width": 154, "height": 38,
      "title": {"text": "Number at risk", "anchor": "start", "frame": "group", "font": "Liberation Sans", "fontSize": 10, "offset": 2},
      "data": {"name": "risk"}, "transform": [{"filter": "datum.p == 'C'"}],
      "mark": {"type": "text", "fontSize": 7.5},
      "encoding": {
        "x": {"field": "t", "type": "quantitative", "scale": {"domain": [-1.25, 26.1], "nice": false, "zero": false},
              "axis": {"values": [0,2.5,5,7.5,10,12.5,15,17.5,20,22.5,25], "labelExpr": "datum.value % 5 == 0 ? format(datum.value, 'd') : ''", "title": "Time", "titleFontSize": 8, "titlePadding": 0.5, "labelOverlap": false, "labelFlush": false, "labelPadding": 0,
                       "gridWidth": {"condition": {"test": "datum.value % 5 != 0", "value": 0.5}, "value": 0.9},
                       "tickOpacity": {"condition": {"test": "datum.value % 5 != 0", "value": 0}, "value": 1}}},
        "y": {"field": "g", "type": "nominal", "scale": {"type": "point", "domain": ["Low","Medium","High"], "padding": 0.6},
              "axis": {"title": null, "labels": false, "ticks": false}},
        "text": {"field": "n", "type": "quantitative"},
        "color": {"field": "g", "type": "nominal", "scale": {"domain": ["Low","Medium","High"], "range": ["#E7B800","#2E9FDF","#F4A07A"]}, "legend": null}
      }
    }
  ],
  "config": {
    "font": "Liberation Sans",
    "view": {"stroke": "#555555", "strokeWidth": 1.2},
    "axis": {"domain": false, "grid": true, "gridColor": "#EBEBEB", "labelFontSize": 6.5, "labelColor": "#4D4D4D", "labelFont": "Liberation Sans", "tickColor": "#4D4D4D", "tickSize": 3, "tickWidth": 0.8, "titleFont": "Liberation Sans", "titleFontSize": 9, "titleFontWeight": "normal", "titleColor": "black"},
    "title": {"font": "Lato", "fontSize": 17, "fontWeight": "normal", "color": "black", "lineHeight": 20},
    "legend": {"labelFont": "Liberation Sans", "titleFont": "Liberation Sans"}
  }
}
